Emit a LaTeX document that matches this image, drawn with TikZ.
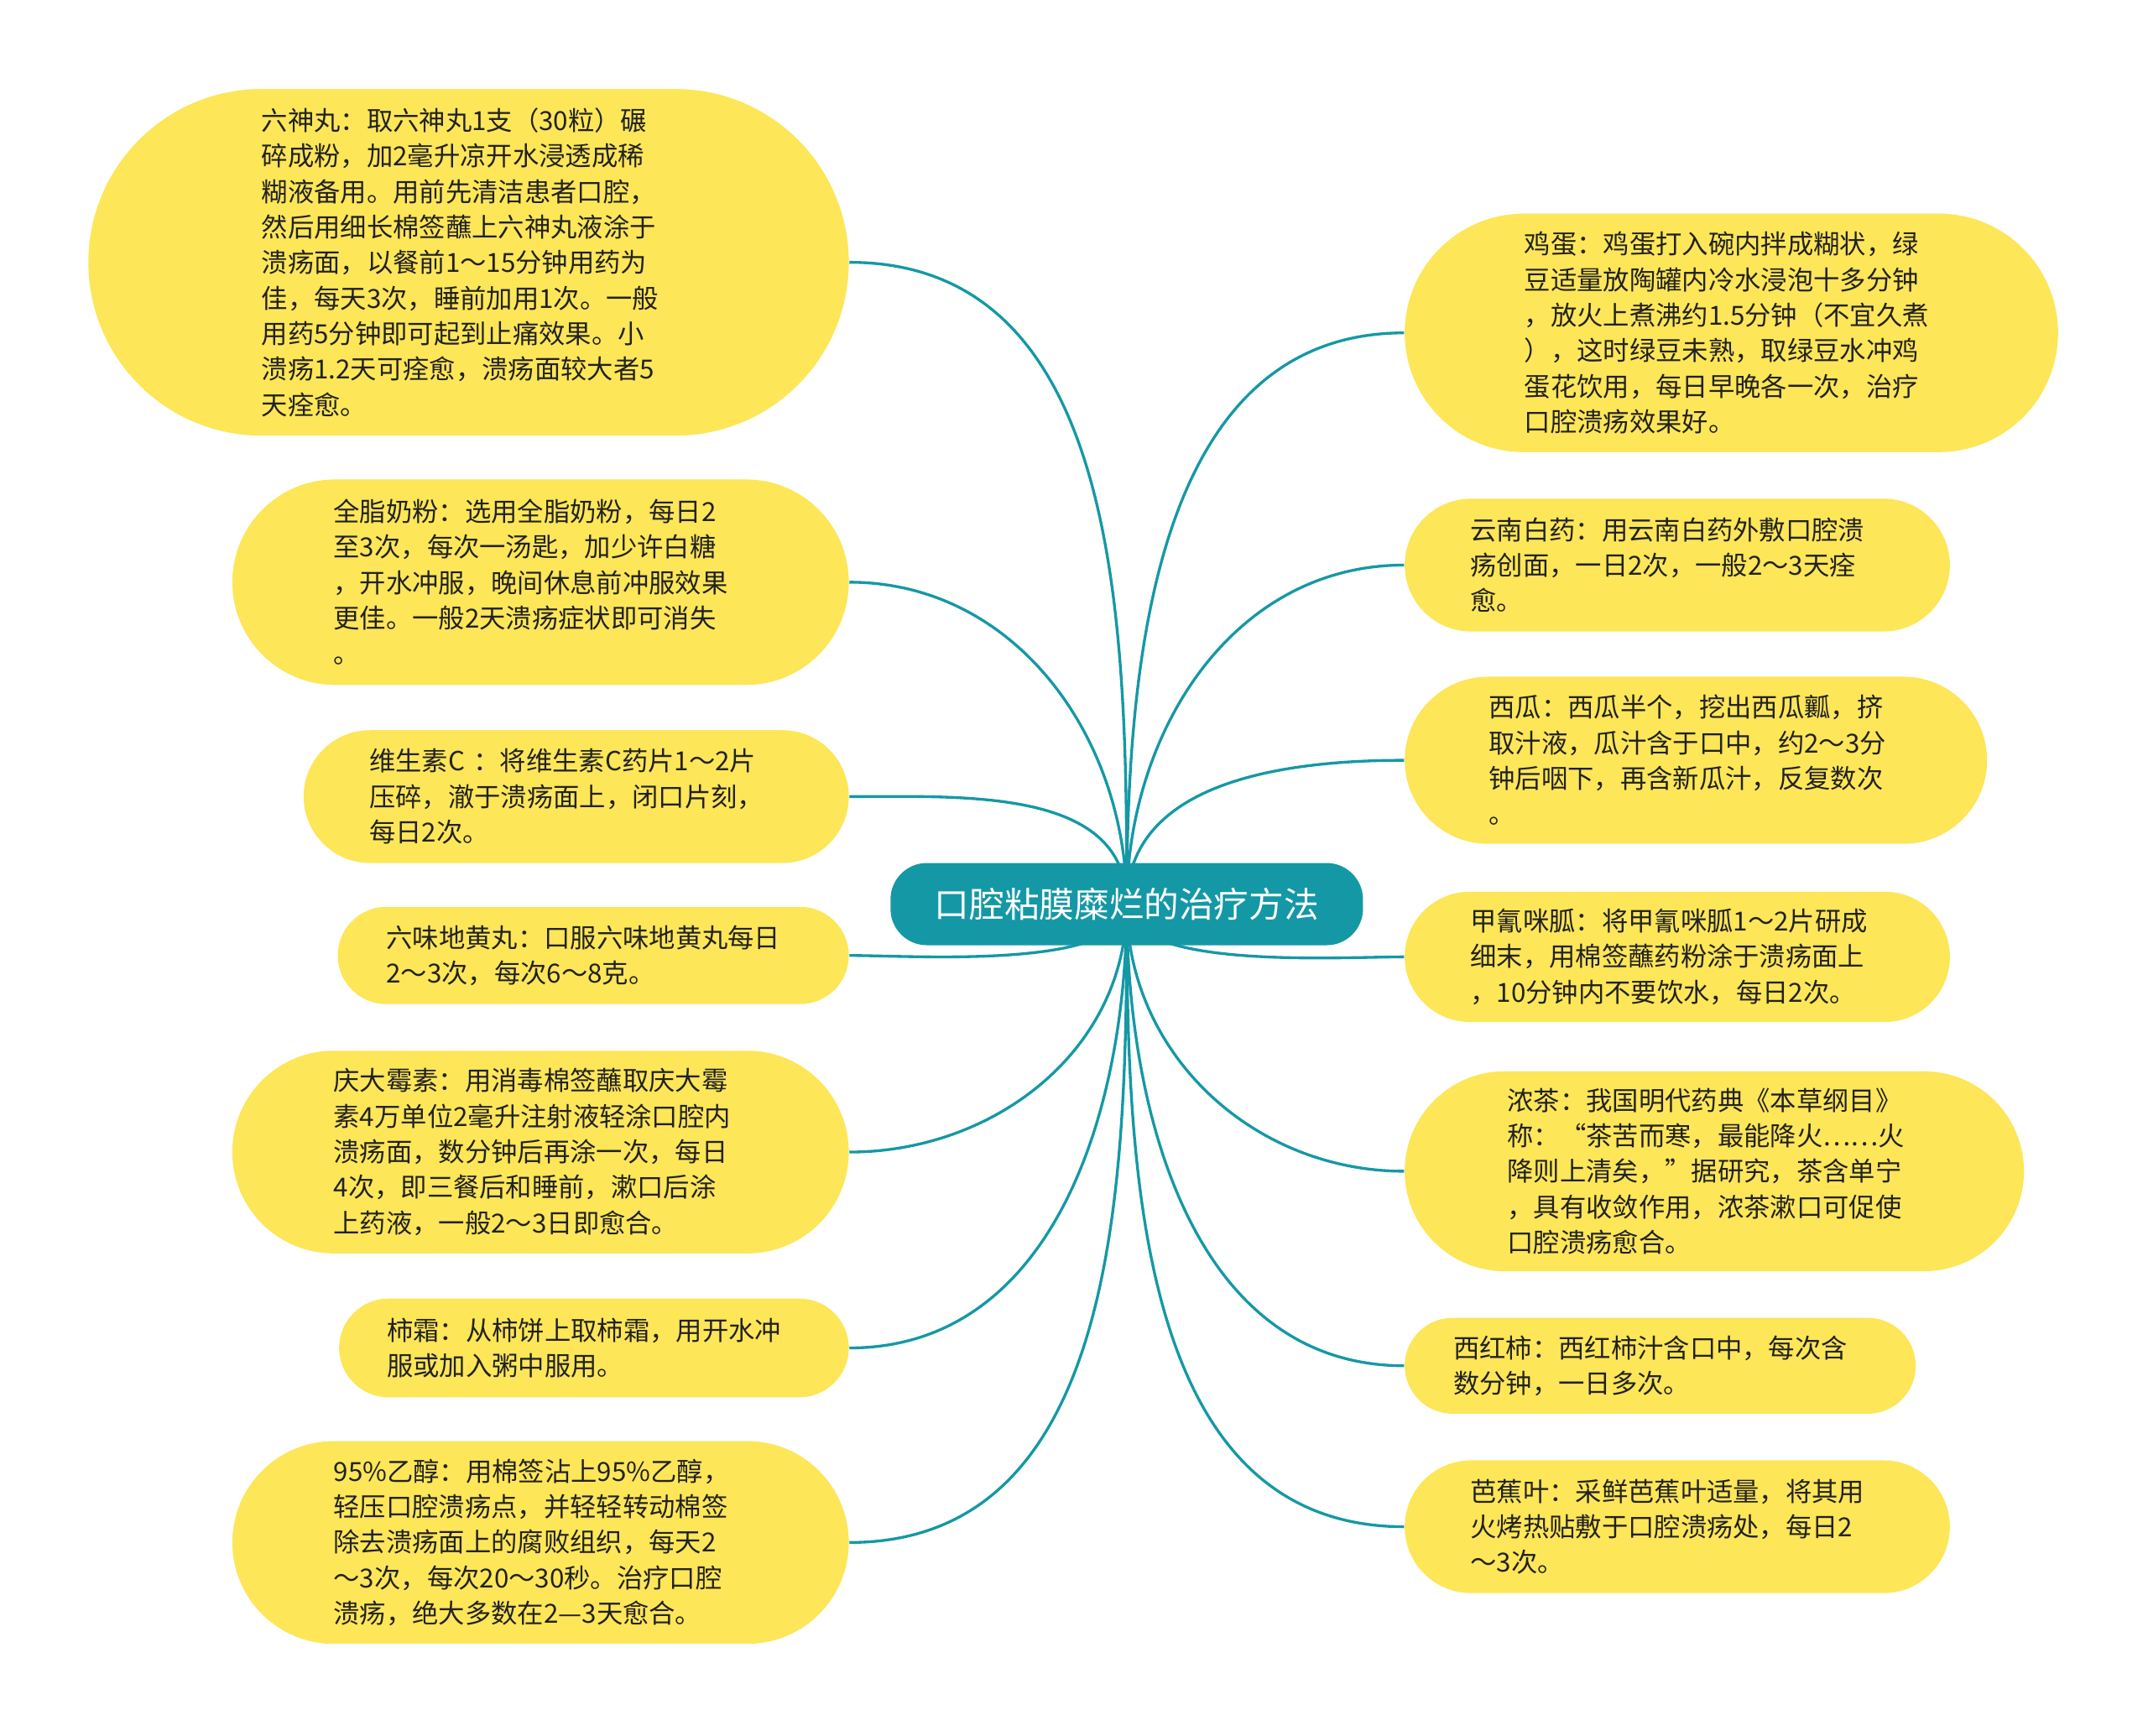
\documentclass[tikz,border=0pt]{standalone}
\usepackage{fontspec}
\setmainfont{Noto Sans CJK SC}
\usetikzlibrary{shapes.misc,backgrounds}

\definecolor{mapteal}{RGB}{21,152,165}
\definecolor{mapyellow}{RGB}{253,230,88}
\definecolor{maptext}{RGB}{34,34,34}

\begin{document}
\begin{tikzpicture}[x=0.49pt, y=0.49pt,
		leaf/.style={rounded rectangle, fill=mapyellow, text=maptext, text width=148pt, align=left,
			inner xsep=0pt, inner ysep=0pt, font=\fontsize{9.4}{12.7}\selectfont},
		title/.style={rectangle, rounded corners=13pt, fill=mapteal, text=white, minimum width=169pt,
			minimum height=29.4pt, inner sep=0pt, font=\fontsize{12.5}{15}\selectfont},
		link/.style={draw=mapteal, line width=1pt}]
				% Page frame
				\useasboundingbox (0,0) rectangle (1568,1267);
				
				% Central topic
				\node[title] (title) at (822.5,607) {口腔粘膜糜烂的治疗方法};
				
				% Left branches
				\node[leaf, minimum width=272pt, minimum height=124pt, anchor=east] (liushen) at (620,1075.5) {六神丸：取六神丸1支（30粒）碾\\碎成粉，加2毫升凉开水浸透成稀\\糊液备用。用前先清洁患者口腔，\\然后用细长棉签蘸上六神丸液涂于\\溃疡面，以餐前1～15分钟用药为\\佳，每天3次，睡前加用1次。一般\\用药5分钟即可起到止痛效果。小\\溃疡1.2天可痊愈，溃疡面较大者5\\天痊愈。};
				\node[leaf, minimum width=220.5pt, minimum height=73.5pt, anchor=east] (naifen) at (620,842) {全脂奶粉：选用全脂奶粉，每日2\\至3次，每次一汤匙，加少许白糖\\，开水冲服，晚间休息前冲服效果\\更佳。一般2天溃疡症状即可消失\\。};
				\node[leaf, minimum width=195pt, minimum height=47.5pt, anchor=east] (weic) at (620,685.5) {维生素C ：将维生素C药片1～2片\\压碎，澈于溃疡面上，闭口片刻，\\每日2次。};
				\node[leaf, minimum width=182.8pt, minimum height=34.8pt, anchor=east] (liuwei) at (620,569.5) {六味地黄丸：口服六味地黄丸每日\\2～3次，每次6～8克。};
				\node[leaf, minimum width=220.5pt, minimum height=72.5pt, anchor=east] (qingda) at (620,426) {庆大霉素：用消毒棉签蘸取庆大霉\\素4万单位2毫升注射液轻涂口腔内\\溃疡面，数分钟后再涂一次，每日\\4次，即三餐后和睡前，漱口后涂\\上药液，一般2～3日即愈合。};
				\node[leaf, minimum width=182.3pt, minimum height=35.3pt, anchor=east] (shishuang) at (620,283) {柿霜：从柿饼上取柿霜，用开水冲\\服或加入粥中服用。};
				\node[leaf, minimum width=220.5pt, minimum height=72.5pt, anchor=east] (yichun) at (620,141) {95\%乙醇：用棉签沾上95\%乙醇，\\轻压口腔溃疡点，并轻轻转动棉签\\除去溃疡面上的腐败组织，每天2\\～3次，每次20～30秒。治疗口腔\\溃疡，绝大多数在2—3天愈合。};
				
				% Right branches
				\node[leaf, minimum width=233.7pt, minimum height=85.3pt, anchor=west] (jidan) at (1025,1024) {鸡蛋：鸡蛋打入碗内拌成糊状，绿\\豆适量放陶罐内冷水浸泡十多分钟\\，放火上煮沸约1.5分钟（不宜久煮\\），这时绿豆未熟，取绿豆水冲鸡\\蛋花饮用，每日早晚各一次，治疗\\口腔溃疡效果好。};
				\node[leaf, minimum width=195pt, minimum height=47.5pt, anchor=west] (baiyao) at (1025,854.5) {云南白药：用云南白药外敷口腔溃\\疡创面，一日2次，一般2～3天痊\\愈。};
				\node[leaf, minimum width=208.3pt, minimum height=59.8pt, anchor=west] (xigua) at (1025,712) {西瓜：西瓜半个，挖出西瓜瓤，挤\\取汁液，瓜汁含于口中，约2～3分\\钟后咽下，再含新瓜汁，反复数次\\。};
				\node[leaf, minimum width=195pt, minimum height=46.6pt, anchor=west] (jiaqing) at (1025,568.5) {甲氰咪胍：将甲氰咪胍1～2片研成\\细末，用棉签蘸药粉涂于溃疡面上\\，10分钟内不要饮水，每日2次。};
				\node[leaf, minimum width=221.5pt, minimum height=71.5pt, anchor=west] (nongcha) at (1025,412) {浓茶：我国明代药典《本草纲目》\\称：“茶苦而寒，最能降火……火\\降则上清矣，”据研究，茶含单宁\\，具有收敛作用，浓茶漱口可促使\\口腔溃疡愈合。};
				\node[leaf, minimum width=182.8pt, minimum height=34.3pt, anchor=west] (xihongshi) at (1025,270) {西红柿：西红柿汁含口中，每次含\\数分钟，一日多次。};
				\node[leaf, minimum width=195pt, minimum height=47.5pt, anchor=west] (bajiao) at (1025,152.5) {芭蕉叶：采鲜芭蕉叶适量，将其用\\火烤热贴敷于口腔溃疡处，每日2\\～3次。};
				
				% Curved links from the central topic
				\begin{scope}[on background layer]
					\foreach \leaf/\dir/\loose in {liushen/90/1, naifen/90/1, weic/90/1, liuwei/-90/0.6, qingda/-90/1, shishuang/-90/1, yichun/-90/1}
						\draw[link] (title.center) to[out=\dir, in=0, looseness=\loose] (\leaf.east);
					\foreach \leaf/\dir/\loose in {jidan/90/1, baiyao/90/1, xigua/90/1, jiaqing/-90/0.6, nongcha/-90/1, xihongshi/-90/1, bajiao/-90/1}
						\draw[link] (title.center) to[out=\dir, in=180, looseness=\loose] (\leaf.west);
				\end{scope}
			\end{tikzpicture}
\end{document}
